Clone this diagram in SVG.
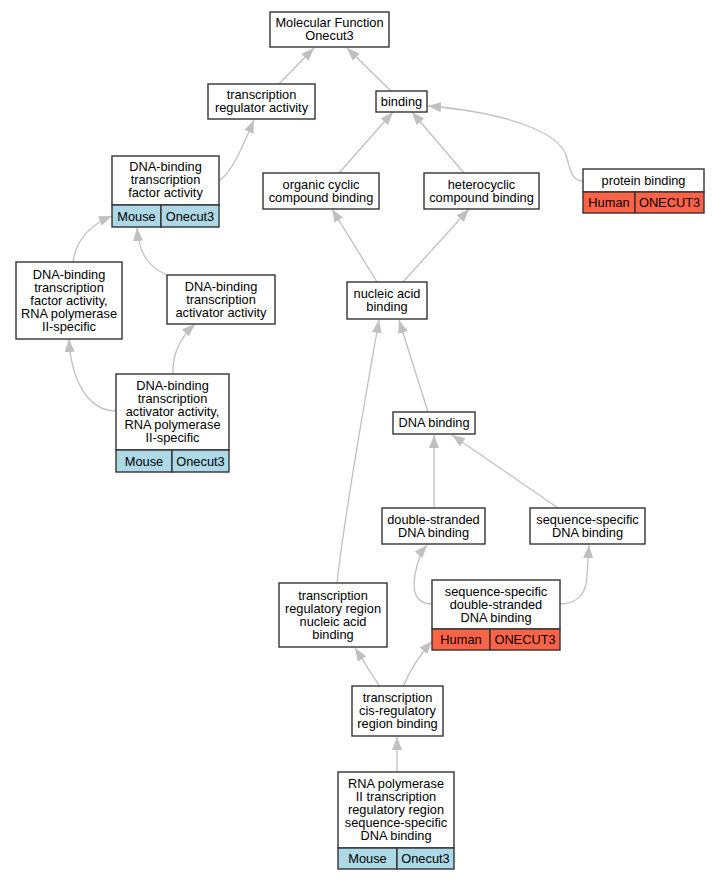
<svg xmlns="http://www.w3.org/2000/svg" width="720" height="880" viewBox="0 0 720 880">
<defs>
<style>
.n rect{fill:#fff;stroke:#333;stroke-width:1.4}
.n rect.m{fill:#add8e6}
.n rect.h{fill:#ff6347}
text{font-family:"Liberation Sans",Arial,sans-serif;font-size:12.8px;text-anchor:middle;fill:#000}
.e path{fill:none;stroke:#c0c0c0;stroke-width:1.3;marker-end:url(#a)}
</style>
<marker id="a" markerUnits="userSpaceOnUse" markerWidth="13" markerHeight="10" viewBox="0 0 13 10" refX="13" refY="5" orient="auto">
<path d="M0,0 L13,5 L0,10 z" fill="#c0c0c0"/>
</marker>
</defs>
<rect width="720" height="880" fill="#fff"/>
<g id="edges" class="e">
<path d="M279,84 L314,48"/>
<path d="M391,91 L347,48"/>
<path d="M219,181 C232,172 241,150 254,120"/>
<path d="M339,173 L393,112"/>
<path d="M464,173 L412,112"/>
<path d="M583,181 C572,181 570,170 567,158 C560,130 500,112 428,106"/>
<path d="M73,262 C76,240 90,225 112,216"/>
<path d="M167,275 C150,268 139,255 137,228"/>
<path d="M116,411 C88,411 71,380 69,339"/>
<path d="M173,374 C172,355 180,338 195,324"/>
<path d="M377,282 L332,209"/>
<path d="M403,282 L469,209"/>
<path d="M428,412 L399,320"/>
<path d="M337,583 C345,510 365,400 379,320"/>
<path d="M434,508 L434,435"/>
<path d="M558,508 L452,435"/>
<path d="M432,604 C415,604 412,590 415,575 C417,562 421,552 427,545"/>
<path d="M560,604 C580,604 587,590 587,575 L589,545"/>
<path d="M380,687 L355,648"/>
<path d="M403,687 C410,670 418,657 432,641"/>
<path d="M397,772 L397,737"/>
</g>
<g id="n1" class="n"><rect x="270" y="12" width="119" height="35"/><text x="329.5" y="27">Molecular Function</text><text x="329.5" y="40">Onecut3</text></g>
<g id="n2" class="n"><rect x="208" y="84" width="107" height="35"/><text x="261.5" y="99">transcription</text><text x="261.5" y="112">regulator activity</text></g>
<g id="n3" class="n"><rect x="376" y="91" width="51" height="21"/><text x="401.5" y="105.5">binding</text></g>
<g id="n4" class="n"><rect x="112" y="156" width="107" height="49"/><text x="165.5" y="171">DNA-binding</text><text x="165.5" y="184">transcription</text><text x="165.5" y="197">factor activity</text><rect class="m" x="112" y="205" width="49" height="22"/><rect class="m" x="161" y="205" width="58" height="22"/><text x="136.5" y="220.5">Mouse</text><text x="190" y="220.5">Onecut3</text></g>
<g id="n5" class="n"><rect x="263" y="173" width="116" height="36"/><text x="321" y="188.5">organic cyclic</text><text x="321" y="201.5">compound binding</text></g>
<g id="n6" class="n"><rect x="424" y="173" width="115" height="36"/><text x="481.5" y="188.5">heterocyclic</text><text x="481.5" y="201.5">compound binding</text></g>
<g id="n7" class="n"><rect x="583" y="169" width="121" height="23"/><text x="643.5" y="184.5">protein binding</text><rect class="h" x="583" y="192" width="52" height="21"/><rect class="h" x="635" y="192" width="69" height="21"/><text x="609" y="206.5">Human</text><text x="669.5" y="206.5">ONECUT3</text></g>
<g id="n8" class="n"><rect x="16" y="262" width="106" height="77"/><text x="69" y="278.5">DNA-binding</text><text x="69" y="291.5">transcription</text><text x="69" y="304.5">factor activity,</text><text x="69" y="317.5">RNA polymerase</text><text x="69" y="330.5">II-specific</text></g>
<g id="n9" class="n"><rect x="167" y="275" width="108" height="49"/><text x="221" y="290.5">DNA-binding</text><text x="221" y="303.5">transcription</text><text x="221" y="316.5">activator activity</text></g>
<g id="n10" class="n"><rect x="347" y="282" width="80" height="37"/><text x="387" y="298">nucleic acid</text><text x="387" y="311">binding</text></g>
<g id="n11" class="n"><rect x="116" y="374" width="113" height="76"/><text x="172.5" y="390">DNA-binding</text><text x="172.5" y="403">transcription</text><text x="172.5" y="416">activator activity,</text><text x="172.5" y="429">RNA polymerase</text><text x="172.5" y="442">II-specific</text><rect class="m" x="116" y="450" width="56" height="22"/><rect class="m" x="172" y="450" width="57" height="22"/><text x="144" y="465.5">Mouse</text><text x="200.5" y="465.5">Onecut3</text></g>
<g id="n12" class="n"><rect x="393" y="412" width="82" height="22"/><text x="434" y="427">DNA binding</text></g>
<g id="n13" class="n"><rect x="382" y="508" width="103" height="36"/><text x="433.5" y="523.5">double-stranded</text><text x="433.5" y="536.5">DNA binding</text></g>
<g id="n14" class="n"><rect x="530" y="508" width="115" height="36"/><text x="587.5" y="523.5">sequence-specific</text><text x="587.5" y="536.5">DNA binding</text></g>
<g id="n15" class="n"><rect x="279" y="583" width="108" height="64"/><text x="333" y="599.5">transcription</text><text x="333" y="612.5">regulatory region</text><text x="333" y="625.5">nucleic acid</text><text x="333" y="638.5">binding</text></g>
<g id="n16" class="n"><rect x="432" y="580" width="128" height="49"/><text x="496" y="595.5">sequence-specific</text><text x="496" y="608.5">double-stranded</text><text x="496" y="621.5">DNA binding</text><rect class="h" x="432" y="629" width="58" height="21"/><rect class="h" x="490" y="629" width="70" height="21"/><text x="461" y="643.5">Human</text><text x="525" y="643.5">ONECUT3</text></g>
<g id="n17" class="n"><rect x="352" y="686" width="91" height="50"/><text x="397.5" y="702">transcription</text><text x="397.5" y="715">cis-regulatory</text><text x="397.5" y="728">region binding</text></g>
<g id="n18" class="n"><rect x="338" y="772" width="116" height="76"/><text x="396" y="788">RNA polymerase</text><text x="396" y="801">II transcription</text><text x="396" y="814">regulatory region</text><text x="396" y="827">sequence-specific</text><text x="396" y="840">DNA binding</text><rect class="m" x="338" y="848" width="59" height="21"/><rect class="m" x="397" y="848" width="57" height="21"/><text x="367.5" y="862.5">Mouse</text><text x="425.5" y="862.5">Onecut3</text></g>
</svg>
